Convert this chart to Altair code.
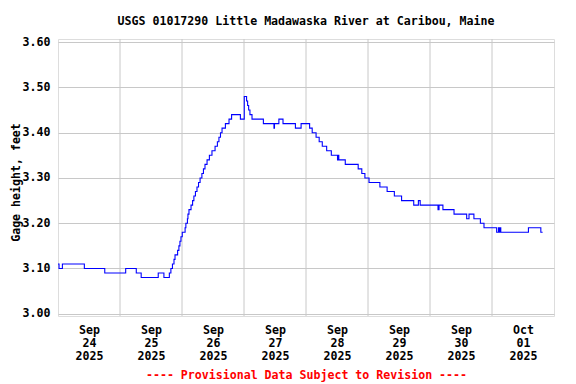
import altair as alt
import pandas as pd

# Hours since 2025-09-24 00:00 at which the gage reading changes, and the reading (ft)
hours = [0.0, 0.4, 1.7, 10.2, 18.1, 26.2, 30.3, 32.2, 38.8, 41.0,
         43.1, 43.7, 44.3, 44.9, 45.3, 46.3, 46.8, 47.2, 47.6, 48.1,
         49.2, 49.5, 50.1, 50.3, 50.7, 51.5, 52.1, 52.6, 53.2, 53.8,
         54.4, 55.0, 55.7, 56.3, 56.9, 57.7, 58.6, 59.6, 60.8, 61.7,
         62.3, 62.9, 63.5, 64.8, 66.2, 67.2, 70.6, 72.1, 73.0, 73.4,
         73.8, 74.3, 75.1, 79.5, 83.6, 83.8, 85.5, 87.1, 91.9, 94.1,
         97.4, 98.4, 99.9, 101.1, 102.3, 104.0, 105.8, 108.2, 108.5, 108.7,
         111.2, 116.2, 117.6, 118.8, 120.4, 124.6, 127.4, 130.2, 133.0, 137.7,
         139.5, 140.2, 147.1, 147.5, 149.0, 153.3, 158.2, 159.1, 161.0, 163.5,
         164.9, 169.8, 170.5, 170.7, 171.1, 171.4, 182.1, 186.9, 187.6]
gage_ft = [3.11, 3.10, 3.11, 3.10, 3.09, 3.10, 3.09, 3.08, 3.09, 3.08,
           3.09, 3.10, 3.11, 3.12, 3.13, 3.14, 3.15, 3.16, 3.17, 3.18,
           3.19, 3.20, 3.21, 3.22, 3.23, 3.24, 3.25, 3.26, 3.27, 3.28,
           3.29, 3.30, 3.31, 3.32, 3.33, 3.34, 3.35, 3.36, 3.37, 3.38,
           3.39, 3.40, 3.41, 3.42, 3.43, 3.44, 3.43, 3.48, 3.47, 3.46,
           3.45, 3.44, 3.43, 3.42, 3.41, 3.42, 3.43, 3.42, 3.41, 3.42,
           3.41, 3.40, 3.39, 3.38, 3.37, 3.36, 3.35, 3.34, 3.35, 3.34,
           3.33, 3.32, 3.31, 3.30, 3.29, 3.28, 3.27, 3.26, 3.25, 3.24,
           3.25, 3.24, 3.23, 3.24, 3.23, 3.22, 3.21, 3.22, 3.21, 3.20,
           3.19, 3.18, 3.19, 3.18, 3.19, 3.18, 3.19, 3.18, 3.18]

# Day tick labels (one per day, centred at noon)
day_months = ["Sep", "Sep", "Sep", "Sep", "Sep", "Sep", "Sep", "Oct"]
day_numbers = ["24", "25", "26", "27", "28", "29", "30", "01"]
day_years = ["2025"] * 8
label_hours = [12, 36, 60, 84, 108, 132, 156, 180]
midnight_hours = [24, 48, 72, 96, 120, 144, 168]
y_ticks = [3.00, 3.10, 3.20, 3.30, 3.40, 3.50, 3.60]

FONT = "DejaVu Sans Mono"
FS = 11.6

series = pd.DataFrame({"hour": hours, "gage": gage_ft})
grid = pd.DataFrame({"hour": midnight_hours})

label_array = "[" + ",".join(
    "['%s','%s','%s']" % (m, d, y) for m, d, y in zip(day_months, day_numbers, day_years)
) + "]"
label_expr = label_array + "[floor(datum.value / 24)]"

xscale = alt.Scale(domain=[0, 192], nice=False, zero=False)
yscale = alt.Scale(domain=[2.995, 3.607], nice=False, zero=False)

x_axis = alt.Axis(
    values=label_hours, labelExpr=label_expr, grid=False, ticks=False, tickSize=0,
    domain=False, labelFont=FONT, labelFontSize=FS, labelFontWeight="bold",
    labelColor="black", labelLineHeight=13, labelPadding=8, labelBaseline="top",
    title="---- Provisional Data Subject to Revision ----", titleColor="#ff0000",
    titleFont=FONT, titleFontSize=FS, titleFontWeight="bold", titlePadding=8,
)
y_axis = alt.Axis(
    values=y_ticks, format=".2f", grid=True, gridColor="#c8c8c8", gridWidth=1,
    ticks=False, tickSize=0, domain=False, labelFont=FONT, labelFontSize=FS,
    labelFontWeight="bold", labelColor="black", labelPadding=8,
    title="Gage height, feet", titleFont=FONT, titleFontSize=FS,
    titleFontWeight="bold", titleColor="black", titleBaseline="alphabetic",
    titleX=-39, titleY=143,
)

rules = alt.Chart(grid).mark_rule(color="#c8c8c8", strokeWidth=1).encode(
    x=alt.X("hour:Q", scale=xscale, axis=x_axis)
)
line = alt.Chart(series).mark_line(
    interpolate="step-after", color="#0000ff", strokeWidth=1.1
).encode(
    x=alt.X("hour:Q", scale=xscale, axis=x_axis),
    y=alt.Y("gage:Q", scale=yscale, axis=y_axis),
)

chart = alt.layer(rules, line).properties(
    width=496, height=277,
    autosize=alt.AutoSizeParams(type="none"),
    padding={"left": 50, "top": 31, "right": 10, "bottom": 66},
    title=alt.TitleParams(
        "USGS 01017290 Little Madawaska River at Caribou, Maine",
        font=FONT, fontSize=FS, fontWeight="bold", color="black",
        anchor="middle", frame="group", offset=9,
    ),
).configure_view(stroke="black", strokeWidth=1).configure(background="white")

chart.save("out.html", embed_options={"renderer": "svg", "actions": False})
